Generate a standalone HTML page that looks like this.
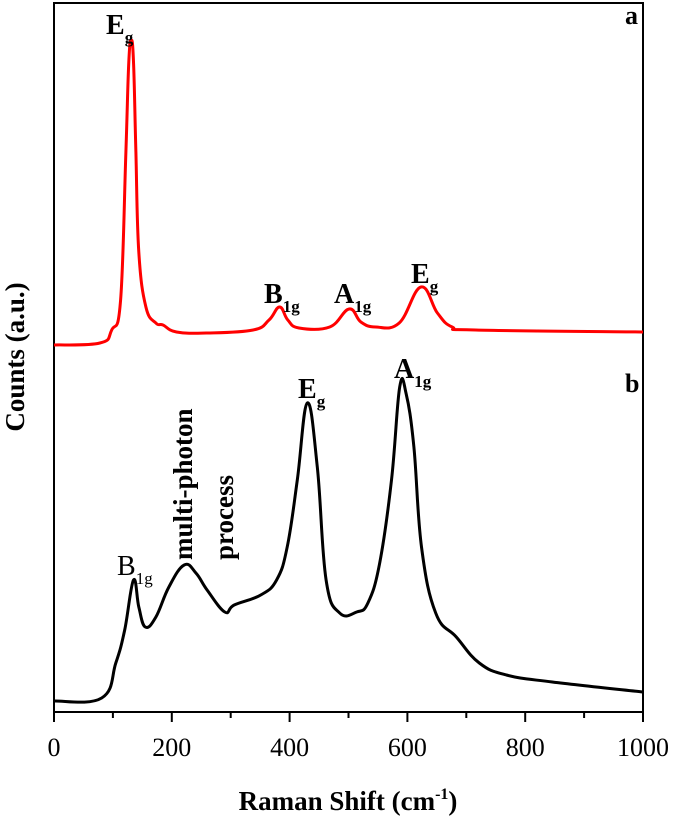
<!DOCTYPE html>
<html><head><meta charset="utf-8"><style>
html,body{margin:0;padding:0;background:#fff;}
svg{display:block;font-family:"Liberation Serif",serif;}
</style></head><body>
<svg id="chart" width="675" height="819" viewBox="0 0 675 819">
<rect x="54" y="3" width="589" height="709" fill="none" stroke="#000" stroke-width="2"/>
<g id="ticks"></g>
<path id="lineA" fill="none" stroke="#f00" stroke-width="3" stroke-linejoin="round"/>
<path id="lineB" fill="none" stroke="#000" stroke-width="3" stroke-linejoin="round"/>
<text x="348" y="810" text-anchor="middle" font-size="27" font-weight="bold">Raman Shift (cm<tspan dy="-11" font-size="16">-1</tspan><tspan dy="11">)</tspan></text>
<text transform="translate(24,357) rotate(-90)" text-anchor="middle" font-size="27" font-weight="bold">Counts (a.u.)</text>
<text x="625" y="24" font-size="26" font-weight="bold">a</text>
<text x="625" y="392" font-size="26" font-weight="bold">b</text>
<g font-weight="bold" font-size="28">
<text x="106" y="34">E<tspan dy="9" font-size="17">g</tspan></text>
<text x="264" y="303">B<tspan dy="9" font-size="17">1g</tspan></text>
<text x="334" y="303">A<tspan dy="9" font-size="17">1g</tspan></text>
<text x="411" y="283">E<tspan dy="9" font-size="17">g</tspan></text>
<text x="298" y="398">E<tspan dy="9" font-size="17">g</tspan></text>
<text x="394" y="378">A<tspan dy="9" font-size="17">1g</tspan></text>
<text transform="translate(192,560) rotate(-90)" font-size="27">multi-photon</text>
<text transform="translate(233,560) rotate(-90)" font-size="27">process</text>
</g>
<text x="117" y="575" font-size="28">B<tspan dy="9" font-size="17">1g</tspan></text>
</svg>
<script>
const xTicks=[0,200,400,600,800,1000];
const xMinor=[100,300,500,700,900];
const redX=[0,78,98,113,122,127,131,135,139,144,156,173,185,208,260,338,365,383,397,416,468,501,521,546,586,623,651,676,716,1000];
const redY=[367,369,382,412,560,650,672,650,560,460,405,389,387,380,379,382,392,405,392,384,385,403,390,385,389,425,399,385,382,380];
const blkX=[0,81,105,120,135,144,155,173,195,221,241,260,290,306,351,378,396,413,430,447,462,485,514,533,553,573,587,598,611,624,648,683,722,768,846,1000];
const blkY=[11,14,49,82,132,105,85,95,125,147,139,122,100,107,117,132,165,232,309,245,132,99,100,109,149,232,325,318,265,165,99,75,49,37,30,20];
const L=54,R=643,T=3,B=712;
function xs(v){return L+(v/1000)*(R-L);}
function ys(v){return B-(v/709)*(B-T);}
function smooth(xa,ya){
  const p=xa.map((x,i)=>[xs(x),ys(ya[i])]);
  let d='M'+p[0][0]+','+p[0][1];
  for(let i=0;i<p.length-1;i++){
    const p0=p[Math.max(0,i-1)],p1=p[i],p2=p[i+1],p3=p[Math.min(p.length-1,i+2)];
    const t=0.2;
    const c1=[p1[0]+(p2[0]-p0[0])*t,p1[1]+(p2[1]-p0[1])*t];
    const c2=[p2[0]-(p3[0]-p1[0])*t,p2[1]-(p3[1]-p1[1])*t];
    d+=' C'+c1[0].toFixed(1)+','+c1[1].toFixed(1)+' '+c2[0].toFixed(1)+','+c2[1].toFixed(1)+' '+p2[0].toFixed(1)+','+p2[1].toFixed(1);
  }
  return d;
}
document.getElementById('lineA').setAttribute('d',smooth(redX,redY));
document.getElementById('lineB').setAttribute('d',smooth(blkX,blkY));
const g=document.getElementById('ticks');
const NS='http://www.w3.org/2000/svg';
xTicks.forEach(v=>{
  const l=document.createElementNS(NS,'line');
  
  
  l.setAttribute('x1',xs(v));l.setAttribute('x2',xs(v));l.setAttribute('y1',B);l.setAttribute('y2',B+10);
  l.setAttribute('stroke','#000');l.setAttribute('stroke-width','2');g.appendChild(l);
  const t=document.createElementNS(NS,'text');
  
  
  t.setAttribute('x',xs(v));t.setAttribute('y',756);t.setAttribute('text-anchor','middle');t.setAttribute('font-size','26');
  t.textContent=v;g.appendChild(t);
});
xMinor.forEach(v=>{
  const l=document.createElementNS(NS,'line');
  
  
  l.setAttribute('x1',xs(v));l.setAttribute('x2',xs(v));l.setAttribute('y1',B);l.setAttribute('y2',B+6);
  l.setAttribute('stroke','#000');l.setAttribute('stroke-width','2');g.appendChild(l);
});
</script>
</body></html>
